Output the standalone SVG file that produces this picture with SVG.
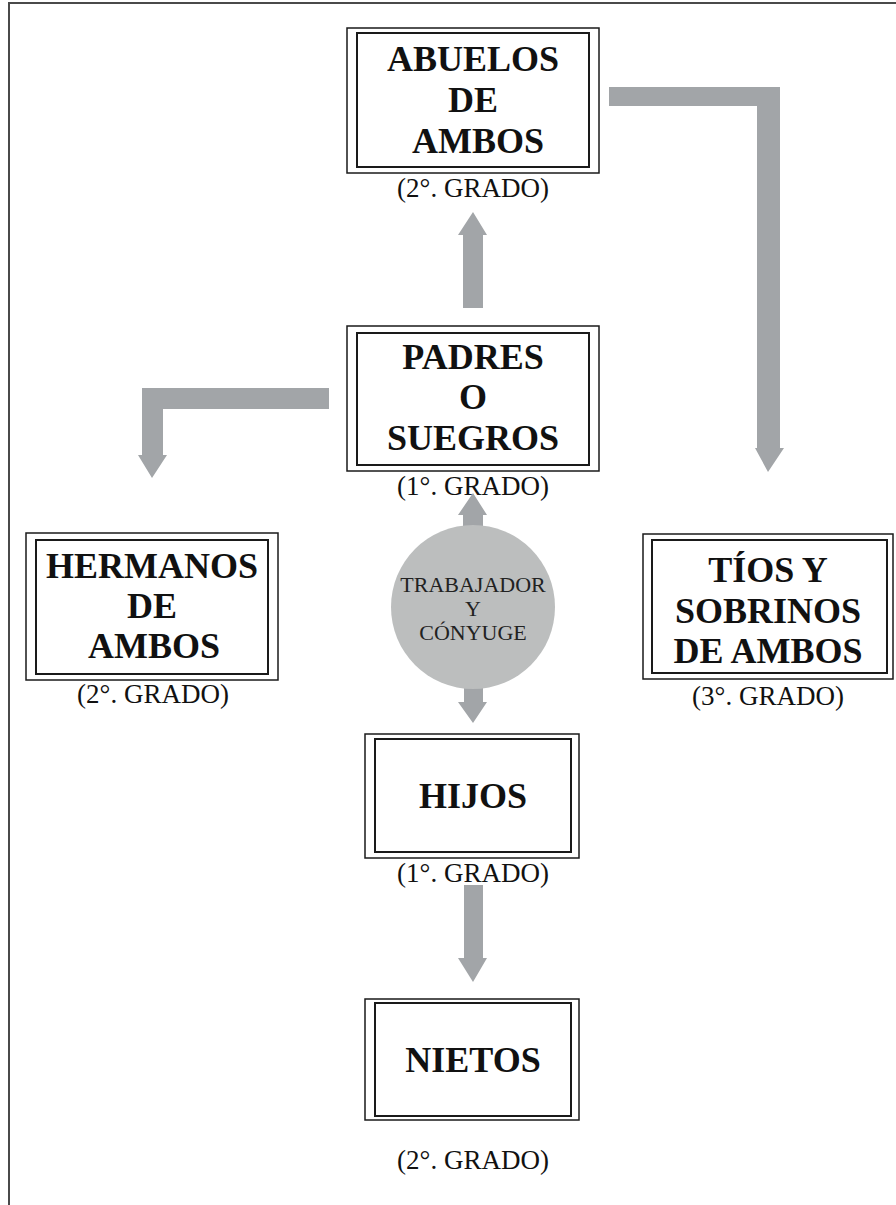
<svg xmlns="http://www.w3.org/2000/svg" width="896" height="1205" viewBox="0 0 896 1205">
<style>
.frame{fill:none;stroke:#4a4a4a;stroke-width:2}
.outer{fill:#fff;stroke:#1a1a1a;stroke-width:1.5}
.inner{fill:none;stroke:#1a1a1a;stroke-width:2}
.t{font-family:"Liberation Serif","Times New Roman",serif;font-weight:bold;font-size:36px;fill:#111;text-anchor:middle}
.g{font-family:"Liberation Serif","Times New Roman",serif;font-size:27px;fill:#111;text-anchor:middle}
.c{font-family:"Liberation Serif","Times New Roman",serif;font-size:22px;fill:#222;text-anchor:middle}
.arr{fill:#a2a5a8}
</style>
<rect width="896" height="1205" fill="#fff"/>
<path class="frame" d="M9,1205 V3 H896"/>
<g id="connectors">
<polygon class="arr" points="463,308 483,308 483,235 487,235 473,212 458,235 463,235"/>
<polygon class="arr" points="609,87 780,87 780,448 784,448 768,472 755,448 757,448 757,106 609,106"/>
<polygon class="arr" points="329,388 329,409 163,409 163,455 167,455 152,478 138,455 142,455 142,388"/>
<polygon class="arr" points="463,527 483,527 483,515 487,515 473,493 458,515 463,515"/>
<polygon class="arr" points="464,685 483,685 483,702 487,702 473,723 458,702 464,702"/>
<polygon class="arr" points="464,885 483,885 483,958 487,958 473,982 458,958 464,958"/>
</g>
<g id="abuelos">
<rect class="outer" x="347" y="28" width="252" height="145"/>
<rect class="inner" x="357" y="33" width="232" height="134"/>
<text class="t" x="473" y="71">ABUELOS</text>
<text class="t" x="473" y="112">DE</text>
<text class="t" x="478" y="153">AMBOS</text>
<text class="g" x="473" y="197">(2°. GRADO)</text>
</g>
<g id="padres">
<rect class="outer" x="347" y="326" width="252" height="145"/>
<rect class="inner" x="357" y="333" width="232" height="132"/>
<text class="t" x="473" y="369">PADRES</text>
<text class="t" x="473" y="409">O</text>
<text class="t" x="473" y="450">SUEGROS</text>
<text class="g" x="473" y="495">(1°. GRADO)</text>
</g>
<g id="hermanos">
<rect class="outer" x="26" y="533" width="252" height="147"/>
<rect class="inner" x="36" y="540" width="232" height="134"/>
<text class="t" x="152" y="578">HERMANOS</text>
<text class="t" x="152" y="618">DE</text>
<text class="t" x="154" y="658">AMBOS</text>
<text class="g" x="153" y="703">(2°. GRADO)</text>
</g>
<g id="trabajador">
<circle cx="473" cy="607" r="82" fill="#bcbebe"/>
<text class="c" x="473" y="592">TRABAJADOR</text>
<text class="c" x="473" y="616">Y</text>
<text class="c" x="473" y="640">CÓNYUGE</text>
</g>
<g id="tios">
<rect class="outer" x="643" y="534" width="250" height="145"/>
<rect class="inner" x="652" y="540" width="235" height="133"/>
<text class="t" x="768" y="582">TÍOS Y</text>
<text class="t" x="768" y="623">SOBRINOS</text>
<text class="t" x="768" y="663">DE AMBOS</text>
<text class="g" x="768" y="705">(3°. GRADO)</text>
</g>
<g id="hijos">
<rect class="outer" x="365" y="734" width="214" height="124"/>
<rect class="inner" x="375" y="739" width="196" height="113"/>
<text class="t" x="473" y="808">HIJOS</text>
<text class="g" x="473" y="882">(1°. GRADO)</text>
</g>
<g id="nietos">
<rect class="outer" x="365" y="999" width="214" height="121"/>
<rect class="inner" x="375" y="1003" width="196" height="113"/>
<text class="t" x="473" y="1072">NIETOS</text>
<text class="g" x="473" y="1169">(2°. GRADO)</text>
</g>
</svg>
